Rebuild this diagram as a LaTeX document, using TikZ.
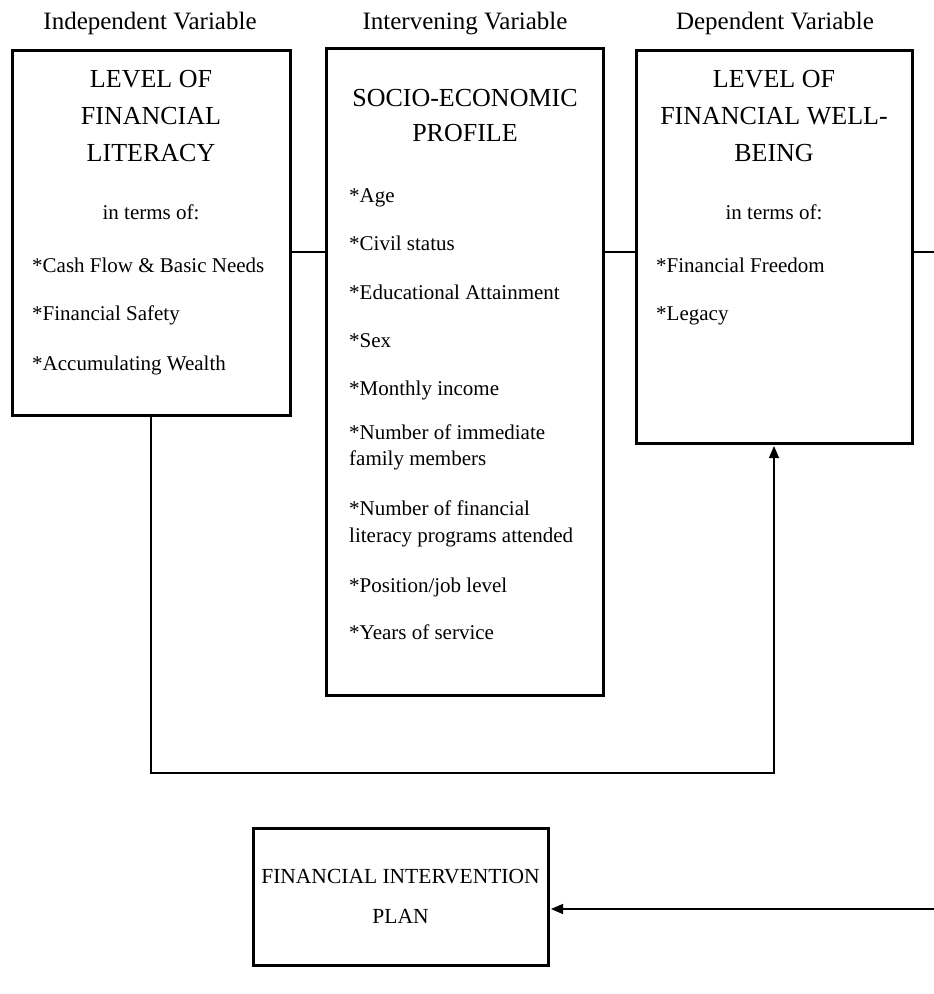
\documentclass[tikz,border=0pt]{standalone}
\usepackage{fontspec}
\setmainfont{Liberation Serif}
\usetikzlibrary{arrows.meta}

\tikzset{
  box/.style={draw, line width=3pt, inner sep=0pt},
  head/.style={font=\fontsize{25}{28}\selectfont, anchor=base, inner sep=0pt},
  title/.style={font=\fontsize{26}{30}\selectfont, anchor=base, inner sep=0pt},
  item/.style={font=\fontsize{21}{24}\selectfont, anchor=base west, inner sep=0pt},
  link/.style={line width=1.3pt},
  tip/.style={link, -{Triangle[length=12pt,width=10pt]}, shorten >=1.5pt}
}

\begin{document}
\begin{tikzpicture}[x=1pt,y=-1pt]
\useasboundingbox (0,0) rectangle (934,994);

% column headings
\node[head] (hInd) at (150,29) {Independent Variable};
\node[head] (hInt) at (465,29) {Intervening Variable};
\node[head] (hDep) at (775,29) {Dependent Variable};

% the four boxes
\node[box, minimum width=278, minimum height=365] (lit) at (151,232.5) {};
\node[box, minimum width=277, minimum height=647] (ses) at (464.5,371.5) {};
\node[box, minimum width=276, minimum height=393] (well) at (774,246.5) {};
\node[box, minimum width=295, minimum height=137, align=center,
      font=\fontsize{21.5}{40}\selectfont] (plan) at (400.5,896.5)
      {FINANCIAL INTERVENTION\\PLAN};

% independent variable
\foreach \txt/\y [count=\i] in {LEVEL OF/87, FINANCIAL/124, LITERACY/161}
  \node[title] (litT\i) at (151,\y) {\txt};
\node[item, anchor=base] (litN) at (151,219) {in terms of:};
\foreach \txt/\y [count=\i] in {{*Cash Flow \& Basic Needs}/272,
    {*Financial Safety}/320, {*Accumulating Wealth}/370}
  \node[item] (litA\i) at (32,\y) {\txt};

% intervening variable
\foreach \txt/\y [count=\i] in {SOCIO-ECONOMIC/106, PROFILE/141}
  \node[title] (sesT\i) at (465,\y) {\txt};
\foreach \txt/\y [count=\i] in {{*Age}/202, {*Civil status}/250,
    {*Educational Attainment}/299, {*Sex}/347, {*Monthly income}/395,
    {*Number of immediate}/439, {family members}/465,
    {*Number of financial}/515, {literacy programs attended}/542,
    {*Position/job level}/592, {*Years of service}/639}
  \node[item] (sesA\i) at (349,\y) {\txt};

% dependent variable
\foreach \txt/\y [count=\i] in {LEVEL OF/87, FINANCIAL WELL-/124, BEING/161}
  \node[title] (wellT\i) at (774,\y) {\txt};
\node[item, anchor=base] (wellN) at (774,219) {in terms of:};
\foreach \txt/\y [count=\i] in {{*Financial Freedom}/272, {*Legacy}/320}
  \node[item] (wellA\i) at (656,\y) {\txt};

% connectors
\coordinate (row) at (0,252);
\coordinate (low) at (0,773);
\coordinate (back) at (950,909);
\draw[link] (lit.east |- row) -- (ses.west |- row);
\draw[link] (ses.east |- row) -- (well.west |- row);
\draw[tip] (well.east |- row) -| (back) -- (plan.east |- back);
\draw[tip] (lit.south) |- (low -| well.south) -- (well.south);
\end{tikzpicture}
\end{document}
